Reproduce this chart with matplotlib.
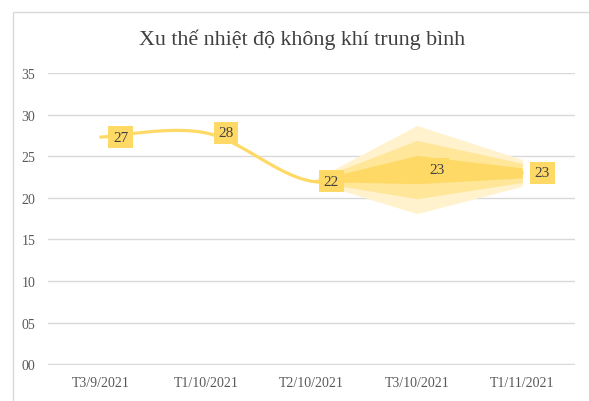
import numpy as np
import matplotlib
matplotlib.use("Agg")
import matplotlib.pyplot as plt
from matplotlib.patches import Rectangle

# ---- data ----
categories = ["T3/9/2021", "T1/10/2021", "T2/10/2021", "T3/10/2021", "T1/11/2021"]
values = [27.3, 27.8, 22.0, 23.4, 23.0]
labels = ["27", "28", "22", "23", "23"]
yticks = [0, 5, 10, 15, 20, 25, 30, 35]
ytick_labels = ["00", "05", "10", "15", "20", "25", "30", "35"]
band_start = 2  # forecast band begins at T2/10/2021
outer_half = [0.0, 5.3, 1.6]
middle_half = [0.0, 3.5, 1.15]
inner_half = [0.0, 1.7, 0.6]
title = "Xu thế nhiệt độ không khí trung bình"

# ---- style ----
serif = ["Liberation Serif", "DejaVu Serif"]
gold = "#FFD966"
mid = "#FFE699"
light = "#FFF2CC"
txt = "#404040"

fig = plt.figure(figsize=(5.89, 4.02), dpi=100)
fig.patch.set_facecolor("white")
# chart border (top/left visible, cropped on right/bottom)
fig.add_artist(Rectangle((13 / 589, -0.05), 1.0, 1 - 13 / 402 + 0.05,
                         transform=fig.transFigure, fill=False,
                         edgecolor="#D9D9D9", linewidth=1.0))

ax = fig.add_axes([48 / 589, 1 - 366 / 402, (575 - 48) / 589, (366 - 74) / 402])
x = np.arange(len(categories))
ax.set_xlim(-0.5, len(categories) - 0.5)
ax.set_ylim(-0.08, 35)

for s in ax.spines.values():
    s.set_visible(False)
ax.set_yticks(yticks)
ax.set_yticklabels(ytick_labels, fontfamily=serif, fontsize=10, color="#595959")
ax.set_xticks(x)
ax.set_xticklabels(categories, fontfamily=serif, fontsize=10, color="#595959")
ax.tick_params(axis="y", length=0, pad=9)
ax.tick_params(axis="x", length=0, pad=8)
ax.grid(axis="y", color="#D9D9D9", linewidth=1.0)
ax.set_axisbelow(True)


# smoothed line (Excel-like cubic Bezier smoothing)
def smooth(xs, ys, n=40):
    pts = np.column_stack([xs, ys]).astype(float)
    out = []
    for i in range(len(pts) - 1):
        p0 = pts[i - 1] if i > 0 else pts[i]
        p1 = pts[i]
        p2 = pts[i + 1]
        p3 = pts[i + 2] if i + 2 < len(pts) else pts[i + 1]
        c1 = p1 + (p2 - p0) / 6
        c2 = p2 - (p3 - p1) / 6
        t = np.linspace(0, 1, n)[:, None]
        seg = ((1 - t) ** 3) * p1 + 3 * ((1 - t) ** 2) * t * c1 + 3 * (1 - t) * t ** 2 * c2 + t ** 3 * p2
        out.append(seg if i == 0 else seg[1:])
    return np.vstack(out)


curve = smooth(x, values)

# forecast bands
bx = x[band_start:]
bc = np.array(values[band_start:])
for half, col in [(outer_half, light), (middle_half, mid), (inner_half, gold)]:
    h = np.array(half)
    ax.fill_between(bx, bc - h, bc + h, color=col, linewidth=0, zorder=2)

ax.plot(curve[:, 0], curve[:, 1], color=gold, linewidth=2.3, zorder=3,
        solid_capstyle="round")

for xi, yi, lab in zip(x, values, labels):
    ax.annotate(lab, (xi, yi), xytext=(20, 0), textcoords="offset pixels",
                ha="center", va="center", fontfamily=serif, fontsize=11,
                color=txt, zorder=5,
                bbox=dict(boxstyle="square,pad=0.3", facecolor=gold,
                          edgecolor="none"))

fig.text(302 / 589, 1 - 40 / 402, title, ha="center", va="center",
         fontfamily=serif, fontsize=15.8, color=txt)

fig.savefig("out.png", dpi=100)
